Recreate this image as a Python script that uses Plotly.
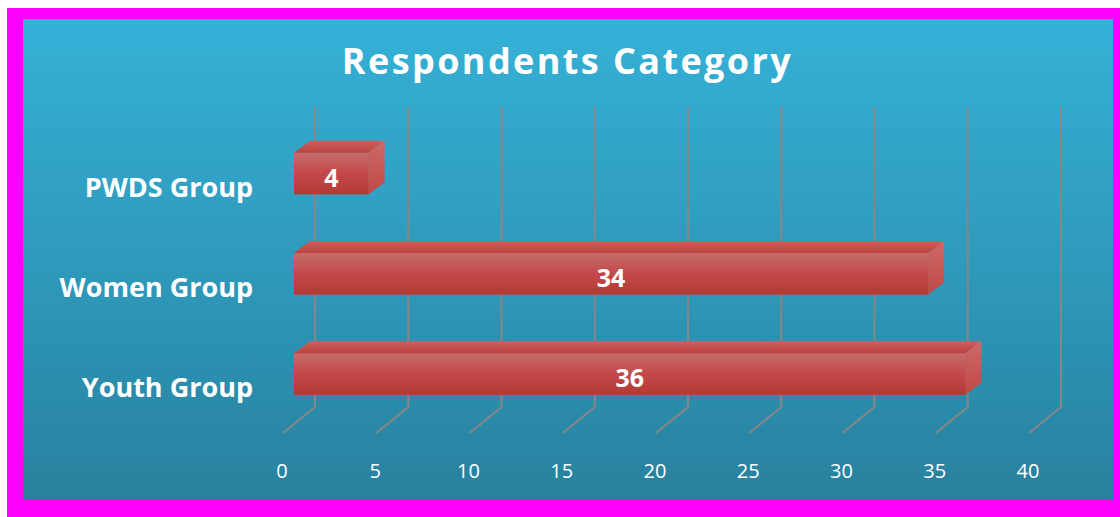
import plotly.graph_objects as go

# ---- data ----
categories = ["Youth Group", "Women Group", "PWDS Group"]
values = [36, 34, 4]
tick_values = [0, 5, 10, 15, 20, 25, 30, 35, 40]
title_text = "Respondents Category"

# ---- frame geometry (pixels) ----
W, H = 1120, 517
PX = 18.65            # pixels per value unit
CAT = 100.25          # pixels per category
FONT = "Open Sans"
WHITE = "#FFFFFF"


def fx(p):
    return p / W


def fy(p):
    return 1 - p / H


DX = 16 / PX          # 3-D depth, value units
DY = 12 / CAT         # 3-D depth, category units
BACK = 21 / PX        # bar origin to back wall
FRONT = 11 / PX       # bar origin to floor front
BAR_H = 41.5 / CAT    # bar thickness, category units
X_MIN, X_MAX = -2, 44 # drawing range of the bar axis, wide enough for the 3-D walls


def grad(c_top, c_bottom, mid=None):
    scale = [[0, c_top], [1, c_bottom]]
    if mid:
        scale = [[0, c_top], [0.5, mid], [1, c_bottom]]
    return dict(type="vertical", colorscale=scale)


def poly(xs, ys, gradient, xa="x2", ya="y2"):
    return go.Scatter(x=xs, y=ys, xaxis=xa, yaxis=ya, mode="lines", fill="toself",
                      line=dict(width=0), fillgradient=gradient,
                      hoverinfo="skip", showlegend=False)


fig = go.Figure()

# gradient panel, pixel axes
fig.add_trace(poly([23, 1113, 1113, 23, 23], [500, 500, 19, 19, 500],
                   grad("#28819E", "#35B1D7", "#2F9ABC"), "x", "y"))

# wall and floor lines
gx, gy = [], []
y_floor_back = -33 / CAT
y_floor_front = y_floor_back - 26 / CAT
y_top = 267 / CAT
for t in tick_values:
    gx += [t + BACK, t + BACK, t - FRONT, None]
    gy += [y_top, y_floor_back, y_floor_front, None]
fig.add_trace(go.Scatter(x=gx, y=gy, xaxis="x2", yaxis="y2", mode="lines",
                         line=dict(color="#868686", width=2),
                         hoverinfo="skip", showlegend=False))

# front faces as bars, gradient overlays and 3-D faces
positions = list(range(len(categories)))
fig.add_trace(go.Bar(x=values, y=positions, orientation="h", width=BAR_H,
                     xaxis="x2", yaxis="y2", marker=dict(color="#BE4844", line=dict(width=0)),
                     hovertemplate="%{x}<extra></extra>", showlegend=False))
for v, p in zip(values, positions):
    lo, hi = p - BAR_H / 2, p + BAR_H / 2
    fig.add_trace(poly([0, v, v, 0, 0], [lo, lo, hi, hi, lo],
                       grad("#B33A34", "#C66D6C", "#C4484A")))
    fig.add_trace(poly([0, v, v + DX, DX, 0], [hi, hi, hi + DY, hi + DY, hi],
                       grad("#BC423D", "#CB6260")))
    fig.add_trace(poly([v, v + DX, v + DX, v, v], [lo, lo + DY, hi + DY, hi, lo],
                       grad("#C04844", "#CC6A68")))

# value labels
fig.add_trace(go.Scatter(x=[v / 2 for v in values], y=[p - 0.07 for p in positions],
                         text=[str(v) for v in values], xaxis="x2", yaxis="y2", mode="text",
                         textposition="middle center",
                         textfont=dict(family=FONT, size=25, color=WHITE, weight="bold"),
                         hoverinfo="skip", showlegend=False))

# invisible carrier for the label axes
fig.add_trace(go.Scatter(x=tick_values, y=[0] * len(tick_values), xaxis="x3", yaxis="y3",
                         mode="markers", marker=dict(opacity=0), hoverinfo="skip", showlegend=False))

hidden = dict(visible=False, fixedrange=True)
fig.update_layout(
    width=W, height=H, autosize=False,
    margin=dict(l=0, r=0, t=0, b=0, pad=0, autoexpand=False),
    paper_bgcolor=WHITE, plot_bgcolor="rgba(0,0,0,0)",
    showlegend=False, barmode="overlay",
    font=dict(family=FONT, color=WHITE),
    shapes=[dict(type="rect", xref="paper", yref="paper", layer="below",
                 x0=fx(7), x1=1, y0=0, y1=fy(8), fillcolor="#FF00FF", line=dict(width=0))],
    title=dict(text=title_text, x=567.5 / W, xanchor="center", xref="paper",
               y=fy(61), yanchor="middle", yref="paper",
               font=dict(family=FONT, size=36, color=WHITE, weight="bold")),
    xaxis=dict(domain=[0, 1], range=[0, W], **hidden),
    yaxis=dict(domain=[0, 1], range=[H, 0], **hidden),
    # bars
    xaxis2=dict(domain=[fx(294 + X_MIN * PX), fx(294 + X_MAX * PX)], range=[X_MIN, X_MAX],
                anchor="y2", **hidden),
    yaxis2=dict(domain=[fy(374 + CAT), fy(374 - 3 * CAT)], range=[-1, 3], anchor="x2", **hidden),
    # printed labels
    xaxis3=dict(domain=[fx(282), fx(282 + 40 * PX)], range=[0, 40], anchor="free", position=fy(457),
                side="bottom", tickvals=tick_values, ticks="", showgrid=False, zeroline=False,
                showline=False, fixedrange=True,
                tickfont=dict(family=FONT, size=20, color=WHITE)),
    yaxis3=dict(domain=[fy(388 + CAT), fy(388 - 3 * CAT)], range=[-1, 3], anchor="free",
                position=fx(253), side="left", tickvals=positions, ticktext=categories, ticks="",
                showgrid=False, zeroline=False, showline=False, fixedrange=True,
                tickfont=dict(family=FONT, size=27, color=WHITE, weight="bold")),
)

fig.write_html("out.html", config={"displayModeBar": False},
               post_script=("document.body.style.margin='0';"
                            "document.documentElement.style.overflow='hidden';"
                            "document.querySelectorAll('.gtitle').forEach(function(t){t.style.letterSpacing='2.4px';});"))
